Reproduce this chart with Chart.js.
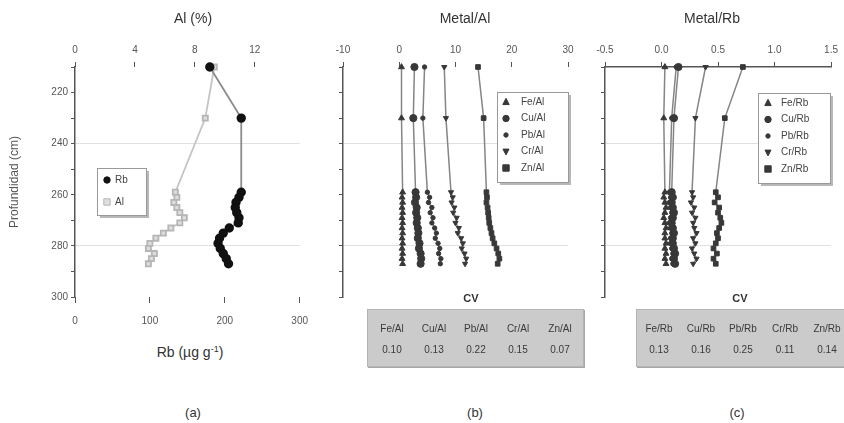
<!DOCTYPE html>
<html>
<head>
<meta charset="utf-8">
<script src="https://cdn.jsdelivr.net/npm/chart.js@4.4.0/dist/chart.umd.min.js"></script>
<style>
  body { margin: 0; background: #fff; width: 844px; height: 423px; position: relative; overflow: hidden;
         font-family: "Liberation Sans", Arial, sans-serif; color: #333; }
  canvas { position: absolute; top: 0; }
  .t { position: absolute; white-space: nowrap; transform: translate(-50%, -50%); }
  .cvbox { position: absolute; top: 309px; height: 56px; background: #cbcbcb; border: 1px solid #b4b4b4;
           box-shadow: 1px 1px 0 #a8a8a8; }
  .cv { font-size: 10px; color: #3a3a3a; }
</style>
</head>
<body>
<canvas id="chartA" width="320" height="335" style="left:0px"></canvas>
<canvas id="chartB" width="270" height="335" style="left:320px"></canvas>
<canvas id="chartC" width="254" height="335" style="left:590px"></canvas>

<div class="t" style="left:193px;top:18px;font-size:14px">Al (%)</div>
<div class="t" style="left:465px;top:18px;font-size:14px">Metal/Al</div>
<div class="t" style="left:712px;top:18px;font-size:14px">Metal/Rb</div>
<div class="t" style="left:190px;top:352px;font-size:14px">Rb (µg g<sup style="font-size:9px">-1</sup>)</div>
<div class="t" style="left:193px;top:412px;font-size:13px">(a)</div>
<div class="t" style="left:475px;top:412px;font-size:13px">(b)</div>
<div class="t" style="left:737px;top:412px;font-size:13px">(c)</div>

<div class="cvbox" style="left:367px;width:215px"></div>
<div class="cvbox" style="left:636px;width:212px"></div>
<div id="cvText"></div>

<script>
// profundidad (cm) de cada muestra
const depths = [210, 230, 259, 261, 263, 265, 267, 269, 271, 273, 275, 277, 279, 281, 283, 285, 287]

// panel (a)
const rbValues = [180, 222, 222, 219, 215, 214, 216, 219, 218, 206, 198, 193, 191, 194, 198, 202, 205]
const alValues = [9.3, 8.7, 6.7, 6.8, 6.6, 6.8, 7.0, 7.3, 7.0, 6.4, 5.9, 5.4, 5.0, 4.9, 5.3, 5.1, 4.9]

// panel (b) Metal/Al
const feAl = [0.4, 0.4, 0.6, 0.5, 0.6, 0.5, 0.6, 0.5, 0.6, 0.5, 0.6, 0.5, 0.6, 0.5, 0.6, 0.5, 0.6]
const cuAl = [2.7, 2.5, 2.9, 3.0, 2.8, 3.1, 3.0, 3.2, 3.1, 3.3, 3.4, 3.3, 3.6, 3.5, 3.8, 3.9, 3.8]
const pbAl = [4.5, 4.2, 5.0, 5.4, 5.2, 5.8, 5.5, 6.0, 5.8, 6.3, 6.6, 6.4, 6.9, 7.2, 7.0, 7.4, 7.3]
const crAl = [8.0, 8.3, 9.2, 9.5, 9.3, 9.8, 9.6, 10.2, 10.0, 10.6, 10.4, 11.0, 11.3, 11.1, 11.6, 11.9, 11.7]
const znAl = [14.0, 15.0, 15.5, 15.6, 15.5, 15.7, 15.8, 15.9, 16.0, 16.2, 16.4, 16.6, 16.9, 17.3, 17.6, 17.8, 17.5]

// panel (c) Metal/Rb
const feRb = [0.03, 0.02, 0.03, 0.02, 0.03, 0.04, 0.03, 0.02, 0.03, 0.04, 0.03, 0.03, 0.04, 0.03, 0.04, 0.03, 0.04]
const cuRb = [0.15, 0.11, 0.09, 0.10, 0.09, 0.10, 0.11, 0.10, 0.09, 0.10, 0.11, 0.10, 0.10, 0.11, 0.12, 0.11, 0.12]
const pbRb = [0.13, 0.09, 0.07, 0.08, 0.07, 0.08, 0.09, 0.08, 0.07, 0.08, 0.09, 0.08, 0.08, 0.09, 0.10, 0.09, 0.10]
const crRb = [0.39, 0.30, 0.27, 0.28, 0.26, 0.29, 0.27, 0.30, 0.28, 0.29, 0.31, 0.28, 0.30, 0.27, 0.29, 0.31, 0.28]
const znRb = [0.72, 0.56, 0.48, 0.50, 0.47, 0.51, 0.50, 0.52, 0.53, 0.51, 0.49, 0.50, 0.48, 0.46, 0.49, 0.46, 0.48]

// tablas CV
const cvLabelsAl = ['Fe/Al', 'Cu/Al', 'Pb/Al', 'Cr/Al', 'Zn/Al']
const cvValuesAl = ['0.10', '0.13', '0.22', '0.15', '0.07']
const cvLabelsRb = ['Fe/Rb', 'Cu/Rb', 'Pb/Rb', 'Cr/Rb', 'Zn/Rb']
const cvValuesRb = ['0.13', '0.16', '0.25', '0.11', '0.14']

const alTicks = [0, 4, 8, 12]
const rbTicks = [0, 100, 200, 300]

const FONT = '"Liberation Sans", Arial, sans-serif'
const AXIS = '#555'

// pares {x, y} para líneas verticales por profundidad
const pts = (vals) => vals.map((v, i) => ({ x: v, y: depths[i] }))

function drawMarker(ctx, style, rot, x, y, r, fill, stroke) {
  ctx.beginPath()
  if (style === 'rect') {
    ctx.rect(x - r, y - r, 2 * r, 2 * r)
  } else if (style === 'triangle') {
    const s = rot ? -1 : 1
    ctx.moveTo(x, y - s * r * 1.15)
    ctx.lineTo(x + r, y + s * r * 0.8)
    ctx.lineTo(x - r, y + s * r * 0.8)
    ctx.closePath()
  } else {
    ctx.arc(x, y, r, 0, Math.PI * 2)
  }
  ctx.fillStyle = fill
  ctx.fill()
  ctx.strokeStyle = stroke
  ctx.lineWidth = 1
  ctx.stroke()
}

// leyenda en caja con sombra, como en el original
const boxLegend = {
  id: 'boxLegend',
  afterDatasetsDraw(chart, args, opts) {
    const b = opts.box
    if (!b) return
    const ctx = chart.ctx
    ctx.save()
    ctx.fillStyle = '#b8b8b8'
    ctx.fillRect(b.x + 3, b.y + 3, b.w, b.h)
    ctx.fillStyle = '#fff'
    ctx.fillRect(b.x, b.y, b.w, b.h)
    ctx.strokeStyle = '#999'
    ctx.lineWidth = 1
    ctx.strokeRect(b.x + 0.5, b.y + 0.5, b.w, b.h)
    ctx.font = '10px ' + FONT
    ctx.textBaseline = 'middle'
    chart.data.datasets.forEach((ds, i) => {
      const y = b.y + opts.first + i * opts.gap
      drawMarker(ctx, ds.pointStyle, ds.pointRotation, b.x + opts.mx, y, Math.min(ds.pointRadius, 3.2),
        ds.pointBackgroundColor, ds.pointBorderColor)
      ctx.fillStyle = '#444'
      ctx.fillText(ds.label, b.x + opts.tx, y)
    })
    ctx.restore()
  }
}

const gridAt = (ctx) => (ctx.tick && (ctx.tick.value === 240 || ctx.tick.value === 280)) ? '#e0e0e0' : 'rgba(0,0,0,0)'

function depthAxis(width, withLabels) {
  return {
    type: 'linear', position: 'left', reverse: true, min: 210, max: 300,
    afterFit: (s) => { s.width = width },
    border: { display: true, color: AXIS, width: 1.5 },
    grid: { color: gridAt, tickColor: AXIS, tickLength: 4, lineWidth: 1 },
    ticks: {
      stepSize: 10, display: withLabels, color: '#555', padding: 3,
      font: { family: FONT, size: 10 },
      callback: (v) => (v % 20 === 0 ? String(v) : '')
    },
    title: withLabels
      ? { display: true, text: 'Profundidad (cm)', color: '#555', font: { family: FONT, size: 12 }, padding: { top: 7, bottom: 0 } }
      : { display: false }
  }
}

function topAxis(min, max, step, showBorder, fmt, fixedTicks) {
  const ax = {
    type: 'linear', position: 'top', min: min, max: max,
    afterFit: (s) => { s.height = 40 },
    border: { display: showBorder, color: AXIS, width: 1.5 },
    grid: { drawOnChartArea: false, tickColor: AXIS, tickLength: 5 },
    ticks: { stepSize: step, color: '#555', padding: 6, font: { family: FONT, size: 10 }, callback: fmt }
  }
  if (fixedTicks) ax.afterBuildTicks = (s) => { s.ticks = fixedTicks.map(v => ({ value: v })) }
  return ax
}

function metalSet(label, vals, style, r, rot) {
  return {
    label: label, data: pts(vals), showLine: true, clip: false,
    borderColor: '#858585', borderWidth: 1.5,
    pointStyle: style, pointRadius: r, pointRotation: rot || 0,
    pointBackgroundColor: '#383838', pointBorderColor: '#383838', pointBorderWidth: 1
  }
}

const common = {
  responsive: false, animation: false,
  plugins: { legend: { display: false }, tooltip: { enabled: false } }
}

// (a) Rb y Al
new Chart(document.getElementById('chartA'), {
  type: 'scatter',
  data: {
    datasets: [
      {
        label: 'Rb', data: pts(rbValues), xAxisID: 'x', showLine: true, clip: false,
        borderColor: '#8c8c8c', borderWidth: 1.8,
        pointStyle: 'circle', pointRadius: 3.8, pointRotation: 0,
        pointBackgroundColor: '#111', pointBorderColor: '#111'
      },
      {
        label: 'Al', data: pts(alValues), xAxisID: 'x2', showLine: true, clip: false,
        borderColor: '#c4c4c4', borderWidth: 1.8,
        pointStyle: 'rect', pointRadius: 3.6, pointRotation: 0,
        pointBackgroundColor: '#dedede', pointBorderColor: '#b5b5b5'
      }
    ]
  },
  options: {
    ...common,
    layout: { padding: { left: 0, right: 13, top: 27, bottom: 8 } },
    plugins: { ...common.plugins, boxLegend: { box: { x: 97, y: 168, w: 49, h: 47 }, first: 12, gap: 22, mx: 10, tx: 18 } },
    scales: {
      y: depthAxis(75, true),
      x: {
        type: 'linear', position: 'bottom', min: 0, max: 300,
        afterFit: (s) => { s.height = 30 },
        afterBuildTicks: (s) => { s.ticks = rbTicks.map(v => ({ value: v })) },
        border: { display: false },
        grid: { drawOnChartArea: false, tickColor: AXIS, tickLength: 6 },
        ticks: { color: '#555', padding: 12, font: { family: FONT, size: 10 } }
      },
      x2: topAxis(0, 15, 4, false, (v) => String(v), alTicks)
    }
  },
  plugins: [boxLegend]
})

// (b) Metal/Al
new Chart(document.getElementById('chartB'), {
  type: 'scatter',
  data: {
    datasets: [
      metalSet('Fe/Al', feAl, 'triangle', 3.4),
      metalSet('Cu/Al', cuAl, 'circle', 3.6),
      metalSet('Pb/Al', pbAl, 'circle', 2.2),
      metalSet('Cr/Al', crAl, 'triangle', 3, 180),
      metalSet('Zn/Al', znAl, 'rect', 3.3)
    ]
  },
  options: {
    ...common,
    layout: { padding: { left: 0, right: 22, top: 27, bottom: 38 } },
    plugins: { ...common.plugins, boxLegend: { box: { x: 177, y: 92, w: 71, h: 90 }, first: 10, gap: 16.5, mx: 9, tx: 24 } },
    scales: {
      y: depthAxis(23, false),
      x: topAxis(-10, 30, 10, false, (v) => String(v))
    }
  },
  plugins: [boxLegend]
})

// (c) Metal/Rb
new Chart(document.getElementById('chartC'), {
  type: 'scatter',
  data: {
    datasets: [
      metalSet('Fe/Rb', feRb, 'triangle', 3.4),
      metalSet('Cu/Rb', cuRb, 'circle', 3.6),
      metalSet('Pb/Rb', pbRb, 'circle', 2.2),
      metalSet('Cr/Rb', crRb, 'triangle', 3, 180),
      metalSet('Zn/Rb', znRb, 'rect', 3.3)
    ]
  },
  options: {
    ...common,
    layout: { padding: { left: 0, right: 9, top: 27, bottom: 38 } },
    plugins: { ...common.plugins, boxLegend: { box: { x: 168, y: 93, w: 72, h: 90 }, first: 10, gap: 16.5, mx: 10, tx: 23 } },
    scales: {
      y: depthAxis(15, false),
      x: topAxis(-0.5, 1.5, 0.5, true, (v) => v.toFixed(1))
    }
  },
  plugins: [boxLegend]
})

// tablas de coeficiente de variación
const cvHost = document.getElementById('cvText')
function cvTable(cx0, titleX, labels, values) {
  let html = `<div class="t" style="left:${titleX}px;top:298px;font-size:11px;font-weight:bold">CV</div>`
  labels.forEach((lab, i) => {
    const cx = cx0 + i * 42
    html += `<div class="t cv" style="left:${cx}px;top:328px">${lab}</div>`
    html += `<div class="t cv" style="left:${cx}px;top:349px">${values[i]}</div>`
  })
  cvHost.insertAdjacentHTML('beforeend', html)
}
cvTable(392, 471, cvLabelsAl, cvValuesAl)
cvTable(659, 740, cvLabelsRb, cvValuesRb)
</script>
</body>
</html>
